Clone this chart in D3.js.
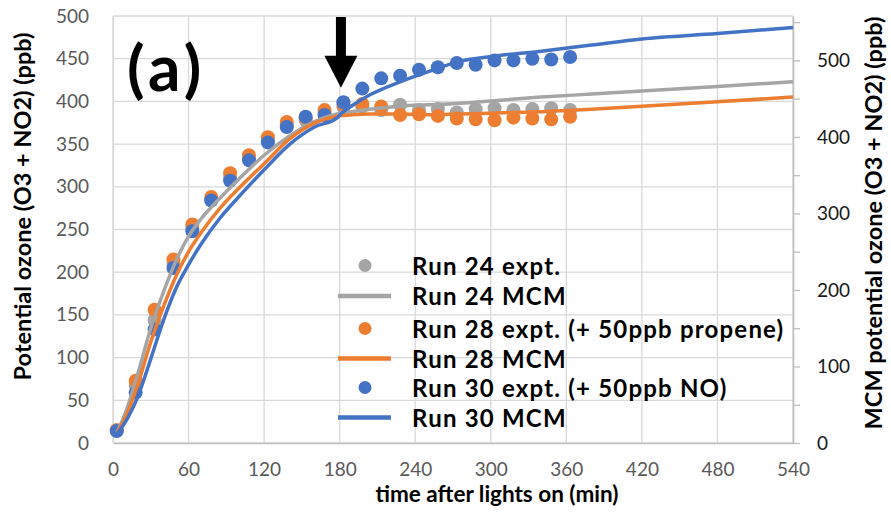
<!DOCTYPE html>
<html>
<head>
<meta charset="utf-8">
<script src="https://cdn.jsdelivr.net/npm/d3@7"></script>
<style>
  html, body { margin: 0; padding: 0; background: #fff; }
  svg { display: block; font-family: Lato, "Open Sans", sans-serif; }
</style>
</head>
<body>
<svg id="chart" width="891" height="512"></svg>
<script>
// Sampling times of the chamber measurements (min after lights on)
const exptTimes = [3, 18, 33, 48, 63, 78, 93, 108, 123, 138, 153, 168, 183,
                   198, 213, 228, 243, 258, 273, 288, 303, 318, 333, 348, 363];

// Measured potential ozone (O3 + NO2), ppb — left axis
const run24Expt = [15, 67, 144, 210, 252, 285, 310, 333, 354, 372, 378, 386, 393,
                   394, 390, 396, 390, 391, 387, 391, 392, 390, 391, 392, 390];
const run28Expt = [15, 73, 156, 215, 256, 288, 316, 337, 358, 376, 381, 390, 396,
                   397, 394, 384, 385, 383, 380, 379, 378, 381, 380, 379, 382];
const run30Expt = [14, 59, 133, 205, 248, 284, 307, 331, 352, 370, 382, 384, 399,
                   415, 427, 430, 437, 440, 445, 443, 448, 448, 450, 449, 452];

// MCM model output times (min) and potential ozone, ppb — right axis
const mcmTimes = [3, 10, 20, 30, 40, 50, 60, 70, 85, 100, 120, 140, 160, 178, 183,
                  190, 204, 228, 250, 276, 300, 340, 380, 420, 480, 540];
const run24Mcm = [13, 40, 92, 150, 197, 238, 270, 293, 320, 345, 376, 401, 420, 430, 432,
                  433, 436, 440, 442, 444, 447, 452, 456, 460, 466, 472];
const run28Mcm = [13, 34, 78, 132, 178, 218, 250, 275, 307, 333, 365, 397, 418, 427, 428,
                  429, 430, 430, 429, 430, 431, 433, 436, 440, 446, 452];
const run30Mcm = [12, 28, 62, 110, 160, 202, 233, 260, 294, 322, 357, 390, 413, 425, 433,
                  441, 455, 472, 485, 499, 505, 512, 520, 528, 535, 543];

// Axis ticks
const xTicks = [0, 60, 120, 180, 240, 300, 360, 420, 480, 540];
const leftTicks = [0, 50, 100, 150, 200, 250, 300, 350, 400, 450, 500];
const rightTicks = [0, 100, 200, 300, 400, 500];
const rightMinorTicks = [0, 50, 100, 150, 200, 250, 300, 350, 400, 450, 500, 550];

// Series styling and legend labels
const colors = { run24: "#A5A5A5", run28: "#ED7D31", run30: "#4472C4" };
const legendLabels = ["Run 24 expt.", "Run 24 MCM", "Run 28 expt. (+ 50ppb propene)",
                      "Run 28 MCM", "Run 30 expt. (+ 50ppb NO)", "Run 30 MCM"];
const legendKeys = ["run24", "run24", "run28", "run28", "run30", "run30"];

// Annotation: NO / propene injection time
const injectionTime = 181;
const panelLabel = "(a)";

const svg = d3.select("#chart");
const plot = { left: 113, right: 793, top: 16, bottom: 443 };

const x = d3.scaleLinear().domain([0, 540]).range([plot.left, plot.right]);
const yL = d3.scaleLinear().domain([0, 500]).range([plot.bottom, plot.top]);
const yR = d3.scaleLinear().domain([0, 558]).range([plot.bottom, plot.top]);

// Gridlines
const grid = svg.append("g").attr("stroke", "#d9d9d9").attr("stroke-width", 1.3);
grid.selectAll("line.h").data(leftTicks).join("line")
  .attr("x1", plot.left).attr("x2", plot.right)
  .attr("y1", d => yL(d)).attr("y2", d => yL(d));
grid.selectAll("line.v").data(xTicks).join("line")
  .attr("y1", plot.top).attr("y2", plot.bottom)
  .attr("x1", d => x(d)).attr("x2", d => x(d));

// Bottom axis
const xAxis = svg.append("g").attr("transform", `translate(0,${plot.bottom})`)
  .call(d3.axisBottom(x).tickValues(xTicks).tickSize(0).tickPadding(20).tickFormat(d3.format("d")));
xAxis.select(".domain").attr("stroke", "#bfbfbf").attr("stroke-width", 1.6);
xAxis.selectAll("text").attr("fill", "#595959").style("font-size", "19px").style("font-family", "Lato");

// Left axis
const yAxisL = svg.append("g").attr("transform", `translate(${plot.left},0)`)
  .call(d3.axisLeft(yL).tickValues(leftTicks).tickSize(0).tickPadding(24));
yAxisL.select(".domain").attr("stroke", "#d9d9d9").attr("stroke-width", 1.3);
yAxisL.selectAll("text").attr("fill", "#595959").style("font-size", "19px").style("font-family", "Lato");

// Right axis: tick marks every 50, labels every 100
const yAxisR = svg.append("g").attr("transform", `translate(${plot.right},0)`)
  .call(d3.axisRight(yR).tickValues(rightMinorTicks).tickSize(7).tickSizeOuter(0)
        .tickFormat(d => rightTicks.includes(d) ? d : ""));
yAxisR.select(".domain").attr("stroke", "#bfbfbf").attr("stroke-width", 1.6);
yAxisR.selectAll(".tick line").attr("stroke", "#bfbfbf").attr("stroke-width", 1.3);
yAxisR.selectAll("text").attr("x", 24).attr("fill", "#1a1a1a").style("font-size", "19px").style("font-family", "Lato");

// Axis titles
svg.append("text")
  .attr("transform", "translate(31,206.5) rotate(-90)")
  .attr("text-anchor", "middle").attr("font-weight", "bold").attr("font-size", 23.5)
  .text("Potential ozone (O3 + NO2) (ppb)");
svg.append("text")
  .attr("transform", "translate(882,223) rotate(-90)")
  .attr("text-anchor", "middle").attr("font-weight", "bold").attr("font-size", 23.5)
  .text("MCM potential ozone (O3 + NO2) (ppb)");
svg.append("text")
  .attr("x", 497).attr("y", 502)
  .attr("text-anchor", "middle").attr("font-weight", "bold").attr("font-size", 22.5)
  .text("time after lights on (min)");

// Experimental points (left axis)
const exptSeries = [
  { values: run24Expt, color: colors.run24 },
  { values: run28Expt, color: colors.run28 },
  { values: run30Expt, color: colors.run30 }
];
exptSeries.forEach(s => {
  svg.append("g").selectAll("circle").data(exptTimes).join("circle")
    .attr("cx", d => x(d))
    .attr("cy", (d, i) => yL(s.values[i]))
    .attr("r", 7)
    .attr("fill", s.color);
});

// MCM model lines (right axis)
const line = (vals) => d3.line()
  .x(d => x(d))
  .y((d, i) => yR(vals[i]))
  .curve(d3.curveMonotoneX)(mcmTimes);
[
  { values: run24Mcm, color: colors.run24 },
  { values: run28Mcm, color: colors.run28 },
  { values: run30Mcm, color: colors.run30 }
].forEach(s => {
  svg.append("path")
    .attr("d", line(s.values))
    .attr("fill", "none")
    .attr("stroke", s.color)
    .attr("stroke-width", 3.5)
    .attr("stroke-linejoin", "round");
});

// Injection arrow
const ax = x(injectionTime);
const aTop = yL(500) + 1, aTip = yL(416), headLen = 32, shaftHalf = 5, headHalf = 16.5;
svg.append("path")
  .attr("d", `M${ax - shaftHalf},${aTop} L${ax + shaftHalf},${aTop} L${ax + shaftHalf},${aTip - headLen}
              L${ax + headHalf},${aTip - headLen} L${ax},${aTip} L${ax - headHalf},${aTip - headLen}
              L${ax - shaftHalf},${aTip - headLen} Z`)
  .attr("fill", "#000");

// Panel label
svg.append("text")
  .attr("x", 127).attr("y", 91)
  .attr("font-weight", "bold").attr("font-size", 64)
  .attr("letter-spacing", 4.5)
  .text(panelLabel);

// Legend
const legendRows = [265.5, 296, 328.5, 358.5, 387.5, 417.5];
const legend = svg.append("g");
legendLabels.forEach((label, i) => {
  const color = colors[legendKeys[i]];
  const cy = legendRows[i];
  if (i % 2 === 0) {
    legend.append("circle").attr("cx", 365).attr("cy", cy).attr("r", 6.5).attr("fill", color);
  } else {
    legend.append("line").attr("x1", 338).attr("x2", 391).attr("y1", cy).attr("y2", cy)
      .attr("stroke", color).attr("stroke-width", 4.5);
  }
  legend.append("text")
    .attr("x", 412).attr("y", cy + 9)
    .attr("font-weight", "bold").attr("font-size", 24)
    .attr("letter-spacing", 1.2)
    .text(label);
});
</script>
</body>
</html>
